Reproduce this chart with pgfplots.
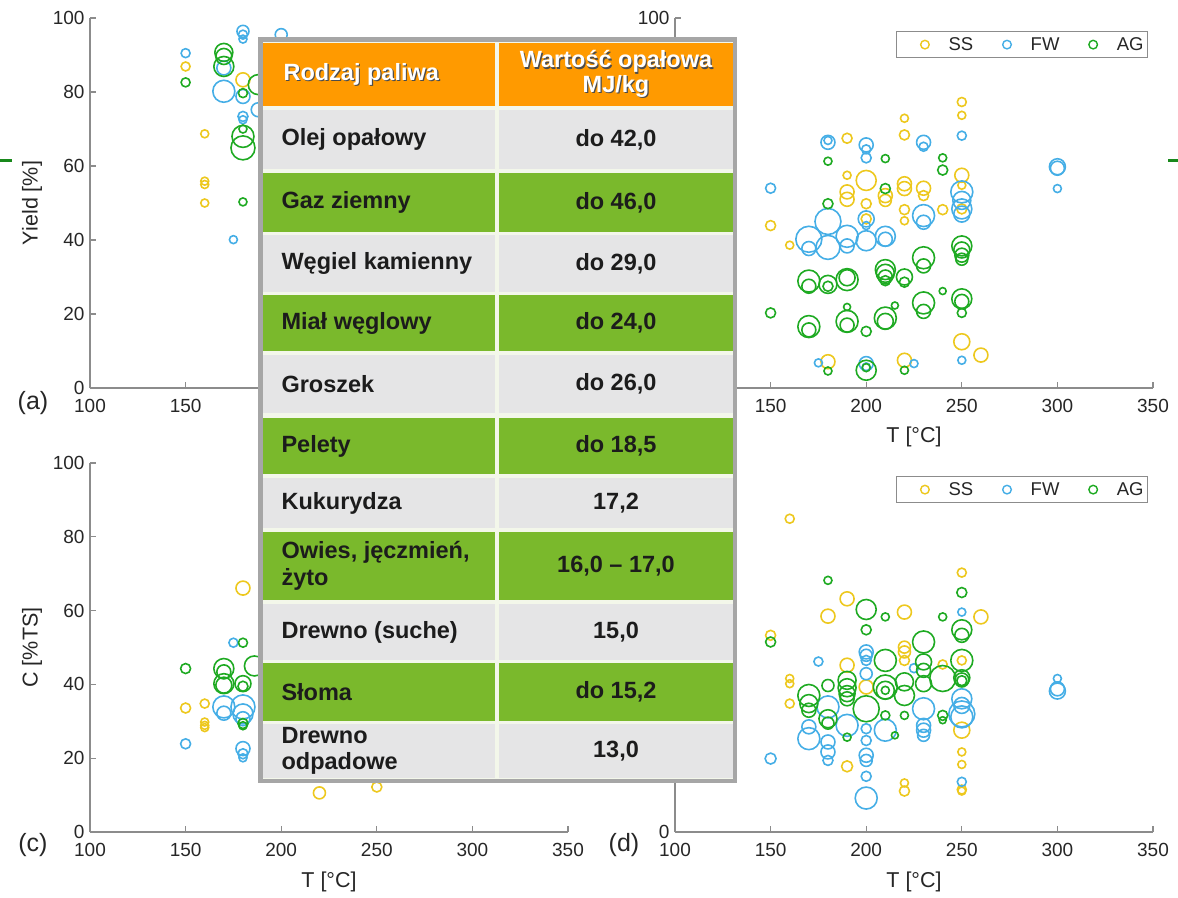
\documentclass[border=0pt]{standalone}
\usepackage{fontspec}
\setmainfont{Liberation Sans}
\usepackage{pgfplots}
\pgfplotsset{compat=1.18}
\usepackage{pgfplotstable}

\definecolor{cSS}{HTML}{EDC81E}
\definecolor{cFW}{HTML}{45AEE6}
\definecolor{cAG}{HTML}{1EAA22}
\definecolor{axgray}{HTML}{8C8C8C}
\definecolor{txt}{HTML}{262626}
\definecolor{tOrange}{HTML}{FF9A00}
\definecolor{tGreen}{HTML}{7AB92C}
\definecolor{tGray}{HTML}{E5E5E6}
\definecolor{tFrame}{HTML}{A6A6A6}
\definecolor{tSep}{HTML}{F3F7EA}
\definecolor{tTxt}{HTML}{1C1C1C}

% ---------- data: T [C], value, bubble radius ----------
\pgfplotstableread[row sep=\\]{T Y r\\
150 86.9 4.5\\ 160 68.7 4\\ 160 55.9 4\\ 160 55.0 4\\ 160 50.0 4\\ 180 83.3 7\\
}\aSS
\pgfplotstableread[row sep=\\]{T Y r\\
150 90.5 4.5\\ 180 96.4 6\\ 180 95.5 4.5\\ 180 94.3 4\\ 170 86.5 7\\ 170 80.2 11\\
180 78.8 7\\ 180 73.4 5\\ 180 72.5 4\\ 175 40.1 4\\ 200 95.5 6\\ 188 75.2 7\\
}\aFW
\pgfplotstableread[row sep=\\]{T Y r\\
150 82.6 4.5\\ 170 90.7 9\\ 170 89.6 8\\ 170 86.9 10\\ 180 79.7 4.5\\ 180 70.0 4\\
180 68.0 11\\ 180 64.9 12\\ 180 50.3 4\\ 188 82.0 10\\
}\aAG
\pgfplotstableread[row sep=\\]{T Y r\\
250 77.3 4.5\\ 250 73.7 4\\ 220 72.9 4\\ 220 68.4 5\\ 190 67.5 5\\ 190 57.5 4\\
200 56.1 10\\ 190 53.0 7\\ 190 51.0 7\\ 210 52.0 7\\ 210 50.7 6\\ 220 55.2 7\\
220 53.9 7\\ 230 54.0 7\\ 230 52.0 5\\ 250 57.5 7\\ 250 54.8 4\\ 250 48.4 5\\
200 49.8 5\\ 220 48.2 5\\ 220 45.2 4\\ 240 48.2 5\\ 200 45.7 5\\ 150 43.9 5\\
160 38.6 4\\ 250 12.5 8\\ 260 8.9 7\\ 180 7.1 7\\ 220 7.5 7\\
}\bSS
\pgfplotstableread[row sep=\\]{T Y r\\
250 68.2 4.5\\ 180 66.4 7\\ 180 66.9 4\\ 200 65.7 7\\ 200 64.5 4.5\\ 200 62.2 5\\
230 66.4 7\\ 230 65.2 4.5\\ 300 59.8 8\\ 300 59.4 7\\ 300 53.9 4\\ 150 54.0 5\\
250 53.0 11\\ 250 50.7 9\\ 250 48.4 10\\ 250 47.0 8\\ 230 46.6 11\\ 230 44.8 7\\
200 45.7 8\\ 200 43.9 4\\ 180 45.0 13\\ 170 40.2 13\\ 170 37.7 7\\ 180 38.0 12\\
190 41.0 11\\ 190 38.4 7\\ 200 39.8 10\\ 210 41.0 10\\ 210 40.2 7\\ 175 6.8 4\\
250 7.5 4\\ 200 6.6 7\\ 200 5.7 4\\ 225 6.6 4\\
}\bFW
\pgfplotstableread[row sep=\\]{T Y r\\
180 61.3 4\\ 210 62.0 4\\ 240 62.2 4\\ 240 58.9 5\\ 210 53.9 5\\ 180 49.8 5\\
250 38.4 10\\ 250 37.3 8\\ 250 35.9 7\\ 250 34.8 6\\ 230 35.2 11\\ 230 33.0 7\\
210 32.0 10\\ 210 31.0 9\\ 210 30.0 7\\ 210 29.0 5\\ 220 30.0 8\\ 220 28.6 5\\
170 28.9 11\\ 170 27.5 7\\ 180 28.0 9\\ 180 27.5 5\\ 190 29.3 11\\ 190 29.8 8\\
150 20.3 5\\ 170 16.6 11\\ 170 15.7 7\\ 190 18.0 11\\ 190 17.0 7\\ 190 21.9 3.5\\
200 15.3 5\\ 210 18.9 11\\ 210 18.0 8\\ 215 22.3 3.5\\ 230 23.0 11\\ 230 20.7 7\\
240 26.2 3.5\\ 250 24.1 10\\ 250 23.4 7\\ 250 20.3 4.5\\ 180 4.6 4\\ 200 4.8 10\\
200 5.5 4\\ 220 4.8 4\\
}\bAG
\pgfplotstableread[row sep=\\]{T Y r\\
180 66.1 7\\ 160 34.8 4.5\\ 150 33.6 5\\ 160 29.8 4\\ 160 28.9 4\\ 160 28.3 4\\
220 10.6 6\\ 250 12.2 5\\
}\cSS
\pgfplotstableread[row sep=\\]{T Y r\\
175 51.3 4.5\\ 170 33.9 11\\ 170 32.2 7\\ 180 33.9 12\\ 180 32.0 10\\ 180 30.7 7\\
150 23.9 5\\ 180 22.6 7\\ 180 21.2 5\\ 180 20.1 4\\
}\cFW
\pgfplotstableread[row sep=\\]{T Y r\\
180 51.3 4.5\\ 150 44.3 5\\ 170 44.3 10\\ 170 43.4 7\\ 170 40.2 10\\ 170 39.8 8\\
180 40.2 8\\ 180 39.5 5\\ 186 45.0 10\\ 180 29.4 5\\ 180 28.8 4\\
}\cAG
\pgfplotstableread[row sep=\\]{T Y r\\
160 84.9 4.5\\ 250 70.3 4.5\\ 190 63.2 7\\ 180 58.5 7\\ 220 59.6 7\\ 260 58.3 7\\
150 53.3 5\\ 220 50.1 6\\ 220 48.8 6\\ 220 46.5 5\\ 250 46.5 4.5\\ 190 45.2 7\\
240 45.4 4.5\\ 160 41.6 4\\ 160 40.2 4\\ 200 39.3 7\\ 160 34.8 4.5\\ 250 27.6 8\\
190 17.8 5.5\\ 250 21.7 4\\ 250 18.3 4\\ 250 11.5 4.5\\ 250 11.1 4\\ 220 13.3 4\\
220 11.1 5\\
}\dSS
\pgfplotstableread[row sep=\\]{T Y r\\
250 59.6 4\\ 200 48.8 7\\ 200 47.9 6\\ 200 46.5 5\\ 175 46.2 4.5\\ 225 44.4 4.5\\
200 42.9 6\\ 250 36.1 10\\ 250 34.3 8\\ 180 33.9 11\\ 190 28.9 11\\ 230 33.4 11\\
250 32.0 13\\ 250 31.2 11\\ 170 28.5 7\\ 170 25.3 11\\ 180 24.4 7\\ 180 21.7 7\\
180 19.4 5\\ 210 27.6 11\\ 230 28.9 7\\ 230 27.6 7\\ 230 26.2 6\\ 200 28.0 5\\
200 24.8 5\\ 200 20.8 7\\ 200 19.4 6\\ 200 15.1 5\\ 200 9.2 11\\ 150 19.9 5.5\\
250 13.6 4.5\\ 300 41.6 4\\ 300 38.8 7\\ 300 38.2 8\\
}\dFW
\pgfplotstableread[row sep=\\]{T Y r\\
180 68.2 4\\ 250 64.9 5\\ 200 60.3 10\\ 210 58.3 4\\ 240 58.3 4\\ 200 54.8 5\\
250 54.8 10\\ 250 53.3 7\\ 150 51.5 5\\ 230 51.5 11\\ 210 46.5 11\\ 250 46.5 11\\
230 46.1 8\\ 230 43.8 7\\ 240 41.6 13\\ 250 41.8 8\\ 250 41.2 7\\ 250 41.0 5\\
180 39.7 6\\ 190 41.1 9\\ 190 39.1 9\\ 190 37.5 8\\ 190 36.1 7\\ 210 39.3 12\\
210 38.4 9\\ 210 38.4 4\\ 220 40.7 9\\ 220 37.0 10\\ 230 40.2 8\\ 170 37.0 11\\
170 34.8 9\\ 170 33.0 7\\ 180 30.7 9\\ 180 29.5 6\\ 200 33.4 13\\ 210 31.6 4.5\\
220 31.6 4\\ 240 31.6 5\\ 240 30.3 3.5\\ 190 25.7 4\\ 215 26.2 3.5\\
}\dAG

\newcommand\fs[1]{\fontsize{#1}{#1}\selectfont}

\pgfplotsset{
  panel/.style={scale only axis, width=478pt, xmin=100, xmax=350, ymin=0, ymax=100,
    xtick={100,150,...,350}, ytick={0,20,...,100},
    axis lines*=left, tick align=inside, major tick length=6pt,
    axis line style={axgray, line width=1.1pt}, tick style={axgray, line width=1.1pt},
    tick label style={font=\fs{19}, text=txt}, /pgf/number format/assume math mode=true,
    xticklabel style={yshift=-8pt}, yticklabel style={xshift=-2pt},
    label style={font=\fs{21.5}, text=txt}, clip=false},
  bub/.style={scatter, only marks, mark=o, line width=1.6pt, forget plot,
    scatter/use mapped color={draw=#1, fill=none},
    visualization depends on={\thisrow{r}\as\rr},
    scatter/@pre marker code/.append style={/tikz/mark size=\rr}},
  leg/.style={legend columns=3,
    legend image code/.code={\path (0pt,0pt) (36pt,0pt);
      \draw[##1] plot coordinates {(26pt,0pt)};},
    legend style={at={(1,1)}, anchor=north east, xshift=-5pt, yshift=-13pt,
      draw=axgray, line width=0.8pt, font=\fs{18.5}, text=txt, inner ysep=4pt, inner xsep=2pt,
      /tikz/every odd column/.append style={column sep=11pt},
      /tikz/every even column/.append style={column sep=5pt}}},
  limg/.style={only marks, mark=o, mark size=4.3, line width=1.4pt, #1},
}

\begin{document}
\begin{tikzpicture}
\path[use as bounding box] (0pt,0pt) rectangle (1178pt,-897pt);

% (a)
\begin{axis}[panel, height=370pt, at={(90pt,-388pt)}, anchor=south west,
  xticklabels={100,150,,,,}, ylabel={Yield [\%]},
  ylabel style={at={(axis description cs:-0.1213,0.5)}, anchor=center}]
\addplot[bub=cSS] table[x=T,y=Y] {\aSS};
\addplot[bub=cFW] table[x=T,y=Y] {\aFW};
\addplot[bub=cAG] table[x=T,y=Y] {\aAG};
\end{axis}

% (b)
\begin{axis}[panel, leg, height=370pt, at={(675pt,-388pt)}, anchor=south west,
  xticklabels={,150,200,250,300,350}, yticklabels={,,,,,100},
  xlabel={T [°C]},
  xlabel style={at={(axis description cs:0.5,-0.1324)}, anchor=center}]
\addplot[bub=cSS] table[x=T,y=Y] {\bSS};
\addplot[bub=cFW] table[x=T,y=Y] {\bFW};
\addplot[bub=cAG] table[x=T,y=Y] {\bAG};
\addlegendimage{limg=cSS}\addlegendentry{SS}
\addlegendimage{limg=cFW}\addlegendentry{FW}
\addlegendimage{limg=cAG}\addlegendentry{AG}
\end{axis}

% (c)
\begin{axis}[panel, height=369pt, at={(90pt,-832pt)}, anchor=south west,
  xlabel={T [°C]}, ylabel={C [\%TS]},
  xlabel style={at={(axis description cs:0.5,-0.1355)}, anchor=center},
  ylabel style={at={(axis description cs:-0.1213,0.5)}, anchor=center}]
\addplot[bub=cSS] table[x=T,y=Y] {\cSS};
\addplot[bub=cFW] table[x=T,y=Y] {\cFW};
\addplot[bub=cAG] table[x=T,y=Y] {\cAG};
\end{axis}

% (d)
\begin{axis}[panel, leg, height=369pt, at={(675pt,-832pt)}, anchor=south west,
  yticklabels={0,,,,,},
  xlabel={T [°C]},
  xlabel style={at={(axis description cs:0.5,-0.1355)}, anchor=center}]
\addplot[bub=cSS] table[x=T,y=Y] {\dSS};
\addplot[bub=cFW] table[x=T,y=Y] {\dFW};
\addplot[bub=cAG] table[x=T,y=Y] {\dAG};
\addlegendimage{limg=cSS}\addlegendentry{SS}
\addlegendimage{limg=cFW}\addlegendentry{FW}
\addlegendimage{limg=cAG}\addlegendentry{AG}
\end{axis}

\begin{scope}[x=1pt,y=-1pt]
% panel letters
\node[font=\fs{25}, text=txt] at (33,403) {(a)};
\node[font=\fs{25}, text=txt] at (33,845) {(c)};
\node[font=\fs{25}, text=txt] at (624,845) {(d)};
% stray marks of the source picture
\draw[cAG!80!black, line width=3pt] (0,160) -- (12,160);
\draw[cAG!80!black, line width=3pt] (1168,160) -- (1178,160);

% ---------- overlaid table ----------
\fill[tFrame] (258,37) rectangle (737,783);
\fill[tSep] (263,42) rectangle (733,779);
\newcommand\cells[3]{%
  \fill[#3] (263,#1) rectangle (495,#2);
  \fill[#3] (499,#1) rectangle (733,#2);}
\cells{43}{106}{tOrange}
\node[anchor=west, font=\bfseries\fs{23.5}, text=black!70, align=left] at (281.2,75.7) {Rodzaj paliwa};
\node[anchor=west, font=\bfseries\fs{23.5}, text=white, align=left] at (280,74.5) {Rodzaj paliwa};
\node[font=\bfseries\fs{23.5}, text=black!70, align=center] at (617.2,75.2) {Wartość opałowa\\[1pt]MJ/kg};
\node[font=\bfseries\fs{23.5}, text=white, align=center] at (616,74) {Wartość opałowa\\[1pt]MJ/kg};

\newcommand\trow[5]{%
  \cells{#1}{#2}{#3}
  \node[anchor=west, font=\bfseries\fs{23.5}, text=tTxt, align=left] at (278,{(#1+#2)/2}) {#4};
  \node[font=\bfseries\fs{23.5}, text=tTxt] at (616,{(#1+#2)/2}) {#5};}
\trow{110}{169}{tGray}{Olej opałowy}{do 42,0}
\trow{173}{232}{tGreen}{Gaz ziemny}{do 46,0}
\trow{235}{292}{tGray}{Węgiel kamienny}{do 29,0}
\trow{295}{351}{tGreen}{Miał węglowy}{do 24,0}
\trow{355}{413}{tGray}{Groszek}{do 26,0}
\trow{418}{474}{tGreen}{Pelety}{do 18,5}
\trow{478}{528}{tGray}{Kukurydza}{17,2}
\trow{532}{600}{tGreen}{Owies, jęczmień,\\[3pt]żyto}{16,0 – 17,0}
\trow{604}{660}{tGray}{Drewno (suche)}{15,0}
\trow{663}{721}{tGreen}{Słoma}{do 15,2}
\trow{724}{778}{tGray}{Drewno\\[3pt]odpadowe}{13,0}
\end{scope}
\end{tikzpicture}
\end{document}
